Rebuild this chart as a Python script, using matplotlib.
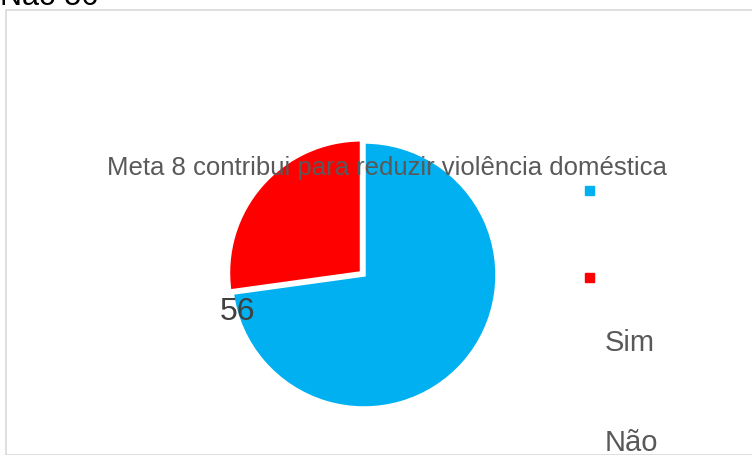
import matplotlib
matplotlib.use("Agg")
import matplotlib.pyplot as plt
from matplotlib.patches import Rectangle

# ── data ──────────────────────────────────────────────────────────────────────
categories = ["Sim", "Não"]
values = [150, 56]
colors = ["#00B0F0", "#FF0000"]
title = "Meta 8 contribui para reduzir violência doméstica"

W, H = 752, 456
fig = plt.figure(figsize=(W / 100, H / 100), dpi=100)

# chart area border (runs off the right / bottom edge)
fig.patches.append(Rectangle((5.5 / W, 0), 1.0, 1 - 10.5 / H, transform=fig.transFigure,
                             fill=False, edgecolor="#D9D9D9", linewidth=1.2))

# clipped label at the very top
fig.text(0.0, 1 - 5 / H, f"{categories[1]} {values[1]}", fontsize=22,
         family=["Liberation Sans", "DejaVu Sans"], color="black", va="baseline")

# ── pie ───────────────────────────────────────────────────────────────────────
cx, cy, r = 364, 276, 133
ax = fig.add_axes([(cx - r) / W, 1 - (cy + r) / H, 2 * r / W, 2 * r / H])
wedges, _ = ax.pie(values, colors=colors, startangle=90, counterclock=False,
                   explode=[0, 0.025], radius=1.0,
                   wedgeprops=dict(edgecolor="white", linewidth=2.5))
ax.set_xlim(-1, 1)
ax.set_ylim(-1, 1)
ax.set_aspect("equal")
ax.axis("off")

tfont = ["Liberation Sans Narrow", "Liberation Sans", "DejaVu Sans"]
# data label next to the red slice
ax.text(-0.95, -0.27, str(values[1]), fontsize=23, color="#404040",
        family=tfont, ha="center", va="center")

# title, overlapping the pie
fig.text(387 / W, 1 - 168 / H, title, fontsize=18.5, color="#595959",
         family=tfont, ha="center", va="center")

# legend markers and labels laid out apart
for i, c in enumerate(colors):
    y = [192, 279][i]
    fig.patches.append(Rectangle((585 / W, 1 - (y + 4) / H), 9 / W, 9 / H,
                                 transform=fig.transFigure, color=c))
for i, lab in enumerate(categories):
    y = [343, 443][i]
    fig.text(605 / W, 1 - y / H, lab, fontsize=21, color="#595959",
             family=tfont, ha="left", va="center")

fig.savefig("out.png", dpi=100)
